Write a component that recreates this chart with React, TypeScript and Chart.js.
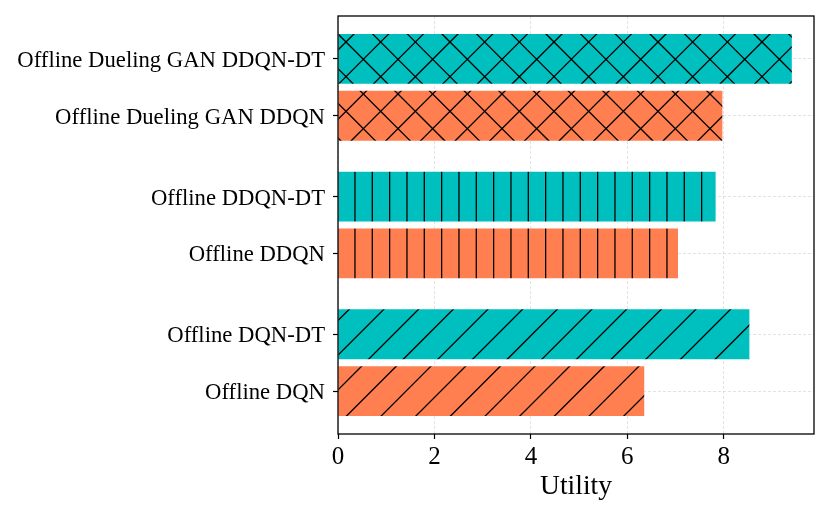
import React, { useEffect, useRef } from 'react';
import { Chart, registerables } from 'chart.js';

Chart.register(...registerables);

// ---- data ----
const barLabels = [
  'Offline Dueling GAN DDQN-DT',
  'Offline Dueling GAN DDQN',
  'Offline DDQN-DT',
  'Offline DDQN',
  'Offline DQN-DT',
  'Offline DQN',
];
const utilityValues = [9.41, 7.97, 7.83, 7.05, 8.53, 6.35];
const groupIndex = [0, 0, 1, 1, 2, 2];
const withinIndex = [0, 1, 0, 1, 0, 1];
const hatchKinds = ['x', 'x', '|', '|', '/', '/'];
const barColors = ['#00bfbf', '#ff7f50', '#00bfbf', '#ff7f50', '#00bfbf', '#ff7f50'];
const xTickValues = [0, 2, 4, 6, 8];
const xAxisTitle = 'Utility';

const FONT = '"Liberation Serif", "DejaVu Serif", "Times New Roman", serif';
const BAR_STEP = 0.413;

function makePattern(color: string, kind: string): CanvasPattern | string {
  const T = 104;
  const s = T / 3;
  const c = document.createElement('canvas');
  c.width = T;
  c.height = T;
  const g = c.getContext('2d');
  if (!g) return color;
  g.fillStyle = color;
  g.fillRect(0, 0, T, T);
  g.strokeStyle = '#000';
  g.lineWidth = 1.3;
  const slash = (off: number) => {
    for (let k = -4; k <= 10; k++) {
      const cc = off + k * s;
      g.beginPath();
      g.moveTo(cc + 2, -2);
      g.lineTo(cc - T - 2, T + 2);
      g.stroke();
    }
  };
  const back = (off: number) => {
    for (let k = -6; k <= 6; k++) {
      const cc = off + k * s;
      g.beginPath();
      g.moveTo(cc - 2, -2);
      g.lineTo(cc + T + 2, T + 2);
      g.stroke();
    }
  };
  if (kind === '/') {
    slash(18.5);
  } else if (kind === 'x') {
    slash(25.3);
    back(26.7);
  } else if (kind === '|') {
    const v = T / 6;
    for (let k = -1; k <= 6; k++) {
      const x = 0.3 + k * v;
      g.beginPath();
      g.moveTo(x, -1);
      g.lineTo(x, T + 1);
      g.stroke();
    }
  }
  const p = g.createPattern(c, 'repeat');
  return p || color;
}

const framePlugin = {
  id: 'frame',
  afterDraw(chart: any) {
    const { ctx, chartArea } = chart;
    ctx.save();
    ctx.strokeStyle = '#000';
    ctx.lineWidth = 1.3;
    ctx.strokeRect(chartArea.left, chartArea.top, chartArea.right - chartArea.left, chartArea.bottom - chartArea.top);
    ctx.restore();
  },
};

export default function App() {
  const ref = useRef<HTMLCanvasElement | null>(null);

  useEffect(() => {
    if (!ref.current) return;
    const positions = groupIndex.map((g, i) => g + (withinIndex[i] - 0.5) * BAR_STEP);
    const data = utilityValues.map((v, i) => ({ x: v, y: positions[i] }));
    const bg = hatchKinds.map((k, i) => makePattern(barColors[i], k));

    const gridColor = 'rgba(0,0,0,0.14)';

    const chart = new Chart(ref.current, {
      type: 'bar',
      data: {
        datasets: [
          {
            data: data as any,
            backgroundColor: bg as any,
            borderWidth: 0,
            categoryPercentage: 1,
            barPercentage: 0.877,
          },
        ],
      },
      options: {
        animation: false,
        responsive: true,
        maintainAspectRatio: false,
        indexAxis: 'y',
        layout: { padding: { top: 8, right: 8, left: 0, bottom: 0 } },
        plugins: {
          legend: { display: false },
          tooltip: { enabled: false },
        },
        scales: {
          x: {
            type: 'linear',
            min: 0,
            max: 9.87,
            z: 1,
            offset: false,
            afterBuildTicks: (scale: any) => {
              scale.ticks = xTickValues.map((v) => ({ value: v }));
            },
            afterFit: (scale: any) => {
              scale.height = 77;
              scale.paddingLeft = 0;
              scale.paddingRight = 0;
            },
            ticks: {
              color: '#000',
              padding: 3,
              font: { family: FONT, size: 25 },
              callback: (v: any) => String(v),
            },
            grid: {
              offset: false,
              color: gridColor,
              lineWidth: 0.8,
              tickColor: '#000',
              tickLength: 5,
              tickWidth: 1.2,
              tickBorderDash: [],
            },
            border: { display: false, dash: [3, 2] },
            title: {
              display: true,
              text: xAxisTitle,
              color: '#000',
              font: { family: FONT, size: 27.5 },
              padding: { top: 0, bottom: 8 },
            },
          },
          y: {
            type: 'linear',
            reverse: true,
            min: -0.518,
            max: 2.518,
            z: 1,
            offset: false,
            afterBuildTicks: (scale: any) => {
              scale.ticks = positions.map((v) => ({ value: v }));
            },
            afterFit: (scale: any) => {
              scale.width = 330;
              scale.paddingTop = 0;
              scale.paddingBottom = 0;
            },
            ticks: {
              color: '#000',
              padding: 8,
              autoSkip: false,
              labelOffset: 2,
              font: { family: FONT, size: 22.7 },
              callback: (_v: any, i: number) => barLabels[i],
            },
            grid: {
              offset: false,
              color: gridColor,
              lineWidth: 0.8,
              tickColor: '#000',
              tickLength: 5,
              tickWidth: 1.2,
              tickBorderDash: [],
            },
            border: { display: false, dash: [3, 2] },
          },
        },
      },
      plugins: [framePlugin],
    });
    return () => chart.destroy();
  }, []);

  return (
    <div style={{ width: 814, height: 503, position: 'relative' }}>
      <canvas ref={ref} />
    </div>
  );
}
